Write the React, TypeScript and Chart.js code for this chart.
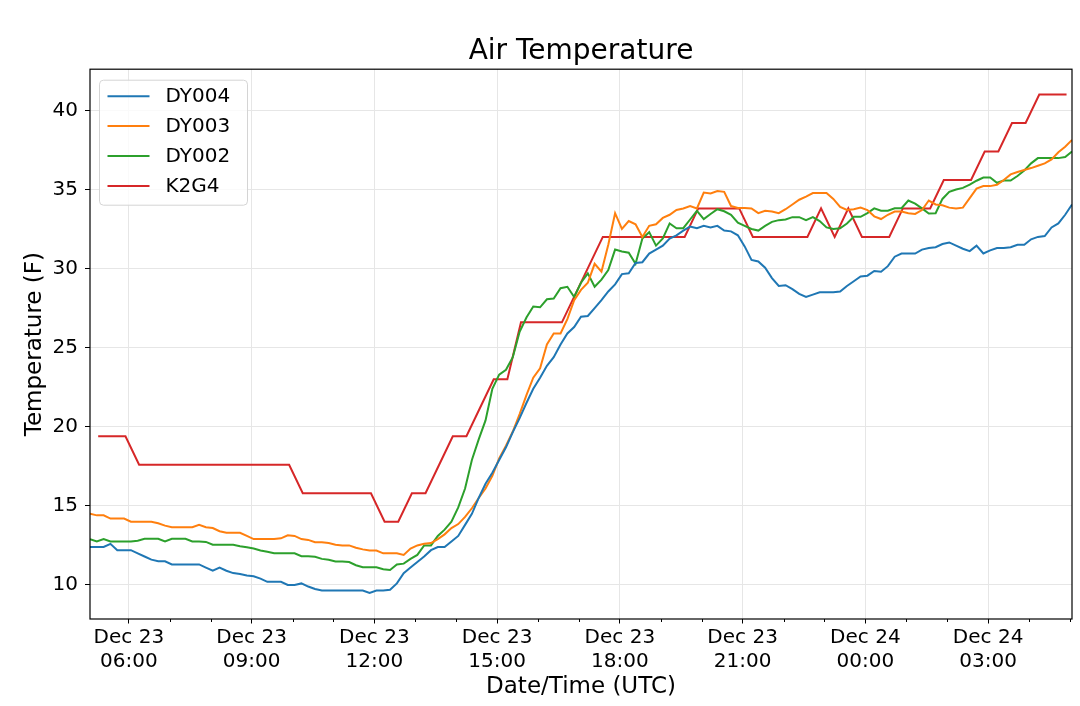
import { useEffect, useRef } from "react";
import { Chart, registerables } from "chart.js";

Chart.register(...registerables);

const FONT = "DejaVu Sans";

const SERIES_LABELS = ["DY004", "DY003", "DY002", "K2G4"];
const SERIES_COLORS = ["#1f77b4", "#ff7f0e", "#2ca02c", "#d62728"];

// time axis: hours since Dec 23 00:00 UTC
const X_MIN = 5.05;
const X_MAX = 29.05;
const DY_START_HOUR = 5.05;
const DY_STEP_HOURS = 1 / 6; // 10 minutes
const K2G4_START_HOUR = 5.25; // 05:15
const K2G4_STEP_HOURS = 1 / 3; // 20 minutes

const Y_MIN = 7.85;
const Y_MAX = 42.6;
const Y_TICKS = [10, 15, 20, 25, 30, 35, 40];

const X_TICK_HOURS = [6, 9, 12, 15, 18, 21, 24, 27];
const X_TICK_LABELS = [
  ["Dec 23", "06:00"],
  ["Dec 23", "09:00"],
  ["Dec 23", "12:00"],
  ["Dec 23", "15:00"],
  ["Dec 23", "18:00"],
  ["Dec 23", "21:00"],
  ["Dec 24", "00:00"],
  ["Dec 24", "03:00"],
];
const X_MINOR_TICK_HOURS = [7, 8, 10, 11, 13, 14, 16, 17, 19, 20, 22, 23, 25, 26, 28, 29];

const DY004 = [
  12.4, 12.4, 12.4, 12.6, 12.2, 12.2, 12.2, 12.0, 11.8, 11.6,
  11.5, 11.5, 11.3, 11.3, 11.3, 11.3, 11.3, 11.1, 10.9, 11.1,
  10.9, 10.75, 10.7, 10.6, 10.55, 10.4, 10.2, 10.2, 10.2, 10.0,
  10.0, 10.1, 9.9, 9.75, 9.65, 9.65, 9.65, 9.65, 9.65, 9.65,
  9.65, 9.5, 9.65, 9.65, 9.7, 10.1, 10.75, 11.1, 11.45, 11.8,
  12.2, 12.4, 12.4, 12.75, 13.1, 13.8, 14.5, 15.5, 16.4, 17.1,
  17.9, 18.7, 19.66, 20.55, 21.5, 22.4, 23.1, 23.85, 24.4, 25.2,
  25.9, 26.3, 26.95, 27.0, 27.5, 28.0, 28.55, 29.0, 29.65, 29.7,
  30.35, 30.4, 30.95, 31.2, 31.45, 31.9, 32.1, 32.4, 32.65, 32.55,
  32.7, 32.6, 32.7, 32.4, 32.35, 32.1, 31.4, 30.55, 30.45, 30.05,
  29.4, 28.9, 28.95, 28.7, 28.4, 28.2, 28.35, 28.5, 28.5, 28.5,
  28.55, 28.9, 29.2, 29.5, 29.55, 29.85, 29.8, 30.15, 30.75, 30.95,
  30.95, 30.95, 31.2, 31.3, 31.35, 31.55, 31.65, 31.45, 31.25, 31.1,
  31.45, 30.95, 31.15, 31.3, 31.3, 31.35, 31.5, 31.5, 31.85, 32.0,
  32.05, 32.6, 32.85, 33.4, 34.05,
];

const DY003 = [
  14.5, 14.4, 14.4, 14.2, 14.2, 14.2, 14.0, 14.0, 14.0, 14.0,
  13.9, 13.75, 13.65, 13.65, 13.65, 13.65, 13.8, 13.65, 13.6, 13.4,
  13.3, 13.3, 13.3, 13.1, 12.9, 12.9, 12.9, 12.9, 12.95, 13.14,
  13.1, 12.9, 12.85, 12.7, 12.7, 12.65, 12.55, 12.5, 12.5, 12.35,
  12.25, 12.18, 12.18, 12.0, 12.0, 12.0, 11.9, 12.3, 12.5, 12.6,
  12.65, 12.9, 13.2, 13.6, 13.85, 14.3, 14.85, 15.5, 16.1, 16.9,
  18.0, 18.8, 19.7, 20.8, 22.0, 23.1, 23.7, 25.2, 25.9, 25.9,
  26.8, 28.0, 28.65, 29.1, 30.3, 29.8, 31.5, 33.5, 32.5, 33.0,
  32.8, 32.0, 32.7, 32.8, 33.2, 33.4, 33.7, 33.8, 33.95, 33.8,
  34.8, 34.75, 34.9, 34.85, 33.95, 33.83, 33.83, 33.8, 33.5, 33.65,
  33.6, 33.5, 33.75, 34.05, 34.35, 34.55, 34.77, 34.77, 34.77, 34.4,
  33.9, 33.7, 33.75, 33.85, 33.7, 33.3, 33.13, 33.4, 33.6, 33.6,
  33.5, 33.45, 33.7, 34.3, 34.05, 34.0, 33.85, 33.79, 33.85, 34.45,
  35.05, 35.21, 35.21, 35.3, 35.6, 35.95, 36.1, 36.23, 36.35, 36.5,
  36.65, 36.9, 37.35, 37.7, 38.13,
];

const DY002 = [
  12.9, 12.75, 12.9, 12.75, 12.75, 12.75, 12.75, 12.8, 12.92, 12.92,
  12.92, 12.75, 12.92, 12.92, 12.92, 12.75, 12.75, 12.72, 12.54, 12.54,
  12.54, 12.54, 12.45, 12.38, 12.3, 12.18, 12.1, 12.01, 12.01, 12.01,
  12.0, 11.82, 11.82, 11.78, 11.65, 11.6, 11.48, 11.48, 11.45, 11.25,
  11.12, 11.12, 11.12, 11.0, 10.95, 11.29, 11.35, 11.65, 11.9, 12.5,
  12.5, 13.1, 13.5, 14.0, 14.9, 16.1, 17.9, 19.2, 20.4, 22.4,
  23.3, 23.6, 24.4, 26.0, 26.9, 27.6, 27.55, 28.06, 28.1, 28.76,
  28.85, 28.2, 29.1, 29.7, 28.85, 29.3, 29.9, 31.2, 31.08, 31.0,
  30.3, 31.9, 32.3, 31.45, 31.9, 32.85, 32.55, 32.55, 33.1, 33.65,
  33.13, 33.45, 33.75, 33.62, 33.4, 32.9, 32.7, 32.5, 32.4, 32.7,
  32.95, 33.06, 33.1, 33.25, 33.25, 33.06, 33.25, 33.0, 32.6, 32.5,
  32.55, 32.85, 33.27, 33.27, 33.5, 33.8, 33.65, 33.65, 33.81, 33.81,
  34.3, 34.1, 33.8, 33.48, 33.5, 34.4, 34.85, 35.0, 35.1, 35.3,
  35.55, 35.75, 35.75, 35.42, 35.56, 35.56, 35.85, 36.2, 36.65, 36.98,
  36.98, 36.98, 36.98, 37.05, 37.4,
];

const K2G4 = [
  19.4, 19.4, 19.4,
  17.6, 17.6, 17.6, 17.6, 17.6, 17.6, 17.6, 17.6, 17.6, 17.6, 17.6, 17.6,
  15.8, 15.8, 15.8, 15.8, 15.8, 15.8,
  14.0, 14.0,
  15.8, 15.8,
  17.6,
  19.4, 19.4,
  21.2,
  23.0, 23.0,
  26.6, 26.6, 26.6, 26.6,
  28.4, 30.2,
  32.0, 32.0, 32.0, 32.0, 32.0, 32.0, 32.0,
  33.8, 33.8, 33.8, 33.8,
  32.0, 32.0, 32.0, 32.0, 32.0,
  33.8, 32.0, 33.8,
  32.0, 32.0, 32.0,
  33.8, 33.8, 33.8,
  35.6, 35.6, 35.6,
  37.4, 37.4,
  39.2, 39.2,
  41.0, 41.0, 41.0,
];

const toPoints = (vals: number[], start: number, step: number) =>
  vals.map((v, i) => ({ x: start + i * step, y: v }));

const framePlugin = {
  id: "mplFrame",
  afterDraw(chart: any) {
    const { ctx, chartArea } = chart;
    const xs = chart.scales.x;
    ctx.save();
    // minor ticks on the time axis
    ctx.strokeStyle = "#000";
    ctx.lineWidth = 1;
    ctx.beginPath();
    for (const h of X_MINOR_TICK_HOURS) {
      if (h < X_MIN || h > X_MAX) continue;
      const px = Math.round(xs.getPixelForValue(h)) + 0.5;
      ctx.moveTo(px, chartArea.bottom);
      ctx.lineTo(px, chartArea.bottom + 3);
    }
    ctx.stroke();
    // spines
    ctx.lineWidth = 1.2;
    ctx.strokeStyle = "#000";
    ctx.strokeRect(chartArea.left, chartArea.top, chartArea.right - chartArea.left, chartArea.bottom - chartArea.top);

    // legend (upper left)
    const lx = chartArea.left + 9.5;
    const ly = chartArea.top + 11;
    const lw = 148;
    const lh = 125;
    ctx.beginPath();
    ctx.roundRect(lx, ly, lw, lh, 4);
    ctx.fillStyle = "rgba(255,255,255,0.8)";
    ctx.fill();
    ctx.strokeStyle = "#d4d4d4";
    ctx.lineWidth = 1;
    ctx.stroke();
    ctx.font = `20px "${FONT}"`;
    ctx.textBaseline = "middle";
    ctx.textAlign = "left";
    chart.data.datasets.forEach((ds: any, i: number) => {
      const cy = ly + 16 + i * 29.9;
      ctx.strokeStyle = ds.borderColor;
      ctx.lineWidth = 2;
      ctx.beginPath();
      ctx.moveTo(lx + 8, cy);
      ctx.lineTo(lx + 50, cy);
      ctx.stroke();
      ctx.fillStyle = "#000";
      ctx.fillText(ds.label, lx + 66, cy + 1);
    });
    ctx.restore();
  },
};

export default function App() {
  const canvasRef = useRef<HTMLCanvasElement | null>(null);

  useEffect(() => {
    document.body.style.margin = "0";
    const canvas = canvasRef.current;
    if (!canvas) return;
    const seriesData = [
      toPoints(DY004, DY_START_HOUR, DY_STEP_HOURS),
      toPoints(DY003, DY_START_HOUR, DY_STEP_HOURS),
      toPoints(DY002, DY_START_HOUR, DY_STEP_HOURS),
      toPoints(K2G4, K2G4_START_HOUR, K2G4_STEP_HOURS),
    ];
    const chart = new Chart(canvas, {
      type: "line",
      data: {
        datasets: seriesData.map((d, i) => ({
          label: SERIES_LABELS[i],
          data: d,
          borderColor: SERIES_COLORS[i],
          backgroundColor: SERIES_COLORS[i],
          borderWidth: 2,
          pointRadius: 0,
          tension: 0,
          fill: false,
        })),
      },
      options: {
        animation: false,
        responsive: false,
        devicePixelRatio: 1,
        parsing: false,
        layout: { padding: { left: 0, right: 8, top: 0, bottom: 0 } },
        plugins: {
          legend: { display: false },
          tooltip: { enabled: false },
          title: {
            display: true,
            text: "Air Temperature",
            color: "#000",
            fullSize: false,
            font: { family: FONT, size: 28, weight: "normal" },
            padding: { top: 35, bottom: 0.6 },
          },
        },
        scales: {
          x: {
            type: "linear",
            min: X_MIN,
            max: X_MAX,
            afterBuildTicks: (scale: any) => {
              scale.ticks = X_TICK_HOURS.map((v) => ({ value: v }));
            },
            afterFit: (scale: any) => {
              scale.height = 87;
            },
            ticks: {
              autoSkip: false,
              maxRotation: 0,
              minRotation: 0,
              padding: 2,
              color: "#000",
              font: { family: FONT, size: 20, lineHeight: 1.2 },
              callback: (value: any) => {
                const idx = X_TICK_HOURS.indexOf(Number(value));
                return idx >= 0 ? X_TICK_LABELS[idx] : "";
              },
            },
            grid: {
              color: "#e6e6e6",
              lineWidth: 1,
              drawTicks: true,
              tickLength: 4.5,
              tickColor: "#000",
              tickWidth: 1,
            },
            border: { display: false },
            title: {
              display: true,
              text: "Date/Time (UTC)",
              color: "#000",
              font: { family: FONT, size: 23, lineHeight: 1.2 },
              padding: { top: 0, bottom: 5 },
            },
          },
          y: {
            type: "linear",
            min: Y_MIN,
            max: Y_MAX,
            afterBuildTicks: (scale: any) => {
              scale.ticks = Y_TICKS.map((v) => ({ value: v }));
            },
            afterFit: (scale: any) => {
              scale.width = 90;
            },
            ticks: {
              padding: 7,
              color: "#000",
              font: { family: FONT, size: 20 },
              callback: (value: any) => String(value),
            },
            grid: {
              color: "#e6e6e6",
              lineWidth: 1,
              drawTicks: true,
              tickLength: 5,
              tickColor: "#000",
              tickWidth: 1,
            },
            border: { display: false },
            title: {
              display: true,
              text: "Temperature (F)",
              color: "#000",
              font: { family: FONT, size: 23, lineHeight: 1.2 },
              padding: { top: 21, bottom: 0 },
            },
          },
        },
      },
      plugins: [framePlugin],
    } as any);
    return () => chart.destroy();
  }, []);

  return (
    <div style={{ width: 1080, height: 706 }}>
      <canvas ref={canvasRef} width={1080} height={706} style={{ display: "block" }} />
    </div>
  );
}
